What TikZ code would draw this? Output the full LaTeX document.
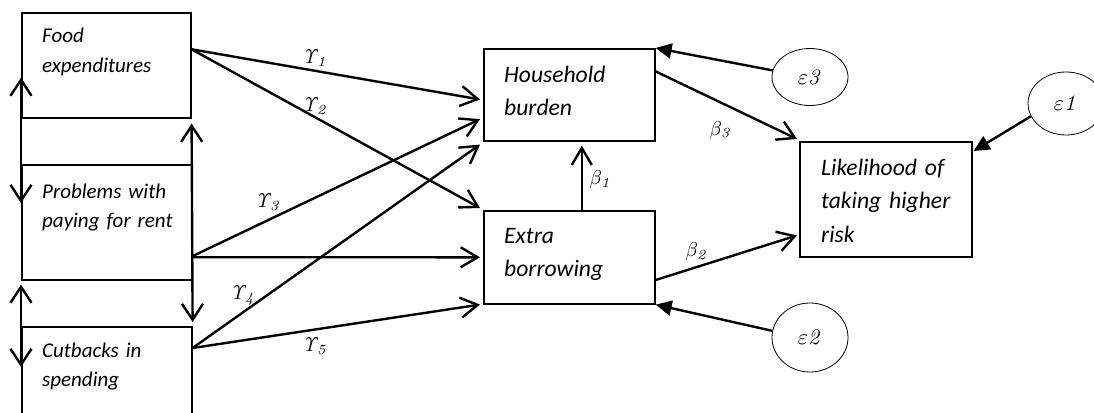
\documentclass[tikz,border=0pt]{standalone}
\usepackage[no-math]{fontspec}
\usepackage{graphicx}
\setmainfont{Carlito}
\usetikzlibrary{arrows.meta,shapes.geometric,calc}
\newcommand{\lbl}[2]{\scalebox{#1}{$#2$}}
\begin{document}
\begin{tikzpicture}[x=1pt,y=-1pt,
  box/.style={draw,line width=1.6pt,rectangle,inner sep=0pt,anchor=north west},
  txts/.style={anchor=base west,inner sep=0pt,align=left,text width=170pt,font=\fontsize{21}{29}\selectfont\itshape},
  txtm/.style={anchor=base west,inner sep=0pt,align=left,text width=170pt,font=\fontsize{23.6}{33.5}\selectfont\itshape},
  ell/.style={draw,ellipse,line width=0.8pt,inner sep=0pt,minimum width=76pt},
  lab/.style={inner sep=0pt},
  path/.style={line width=2.4pt,-{Straight Barb[length=17pt,width=20pt]}},
  dbl/.style={line width=2.4pt,{Straight Barb[length=16pt,width=21pt]}-{Straight Barb[length=16pt,width=21pt]}},
  err/.style={line width=2.4pt,-{Triangle[length=16pt,width=15pt]}}
]
\useasboundingbox (0,0) rectangle (1094,412);
\clip (0,0) rectangle (1094,412);

% boxes
\node[box,minimum width=169pt,minimum height=105pt] (food) at (21,12) {};
\node[box,minimum width=170pt,minimum height=115pt] (prob) at (21,164) {};
\node[box,minimum width=170pt,minimum height=110pt] (cut) at (21,326) {};
\node[box,minimum width=171pt,minimum height=92pt] (hh) at (483,48) {};
\node[box,minimum width=171pt,minimum height=93pt] (ex) at (483,210) {};
\node[box,minimum width=172pt,minimum height=115pt] (lk) at (799,141) {};

% texts
\node[txts] (foodt) at (42,43) {Food\\expenditures};
\node[txts] (probt) at (42,198) {Problems with\\paying for rent};
\node[txts] (cutt) at (42,357) {Cutbacks in\\spending};
\node[txtm] (hht) at (504,82) {Household\\burden};
\node[txtm] (ext) at (504,243) {Extra\\borrowing};
\node[txtm] (lkt) at (821,175) {Likelihood of\\taking higher\\risk};

% error terms
\node[ell,minimum height=57pt] (e3) at (810,77) {\lbl{2.2}{\varepsilon\mathit{3}}};
\node[ell,minimum height=63pt] (e1) at (1066,103.5) {\lbl{2.2}{\varepsilon\mathit{1}}};
\node[ell,minimum height=69pt] (e2) at (810,337.5) {\lbl{2.2}{\varepsilon\mathit{2}}};

% paths from exogenous variables
\draw[path] ($(food.north east)!0.35!(food.south east)$) -- ($(hh.north west)!0.55!(hh.south west)+(-3,0)$);
\draw[path] ($(food.north east)!0.35!(food.south east)$) -- ($(ex.north west)+(-3,-2)$);
\draw[path] ($(prob.north east)!0.79!(prob.south east)$) -- ($(hh.north west)!0.76!(hh.south west)+(-3,0)$);
\draw[path] ($(prob.north east)!0.80!(prob.south east)$) -- ($(ex.west)+(-3,0)$);
\draw[path] ($(cut.north east)+(0,22)$) -- ($(hh.south west)+(-3,3)$);
\draw[path] ($(cut.north east)+(0,22)$) -- ($(ex.south west)+(-3,0)$);

% paths among endogenous variables
\draw[path] ($(ex.north)+(12.5,0)$) -- ($(hh.south)+(12.5,4)$);
\draw[path] ($(hh.north east)!0.25!(hh.south east)$) -- ($(lk.north west)+(-2,-2)$);
\draw[path] ($(ex.north east)!0.74!(ex.south east)$) -- ($(lk.north west)!0.81!(lk.south west)+(-2,0)$);

% error arrows
\draw[err] (e3.170) -- (hh.north east);
\draw[err] (e2.170) -- (ex.south east);
\draw[err] (e1.200) -- ($(lk.north east)+(1,10)$);

% covariances
\draw[dbl] ($(food.south west)+(0,-41)$) -- ($(prob.north west)+(0,39)$);
\draw[dbl] ($(food.south east)+(0,5)$) -- ($(cut.north east)+(0,-4)$);
\draw[dbl] ($(prob.south west)+(0,4)$) -- ($(cut.north west)+(0,41)$);

% labels
\node[lab] (g1) at (315,58) {\lbl{2}{\mathit{\Upsilon}_{\mathit{1}}}};
\node[lab] (g2) at (315,106) {\lbl{2}{\mathit{\Upsilon}_{\mathit{2}}}};
\node[lab] (g3) at (268,202) {\lbl{2}{\mathit{\Upsilon}_{\mathit{3}}}};
\node[lab] (g4) at (243,296) {\lbl{2}{\mathit{\Upsilon}_{\mathit{4}}}};
\node[lab] (g5) at (315,346) {\lbl{2}{\mathit{\Upsilon}_{\mathit{5}}}};
\node[lab] (b1) at (601,179) {\lbl{2}{\beta_{\mathit{1}}}};
\node[lab] (b2) at (697,251) {\lbl{2}{\beta_{\mathit{2}}}};
\node[lab] (b3) at (721,130) {\lbl{2}{\beta_{\mathit{3}}}};
\end{tikzpicture}
\end{document}
